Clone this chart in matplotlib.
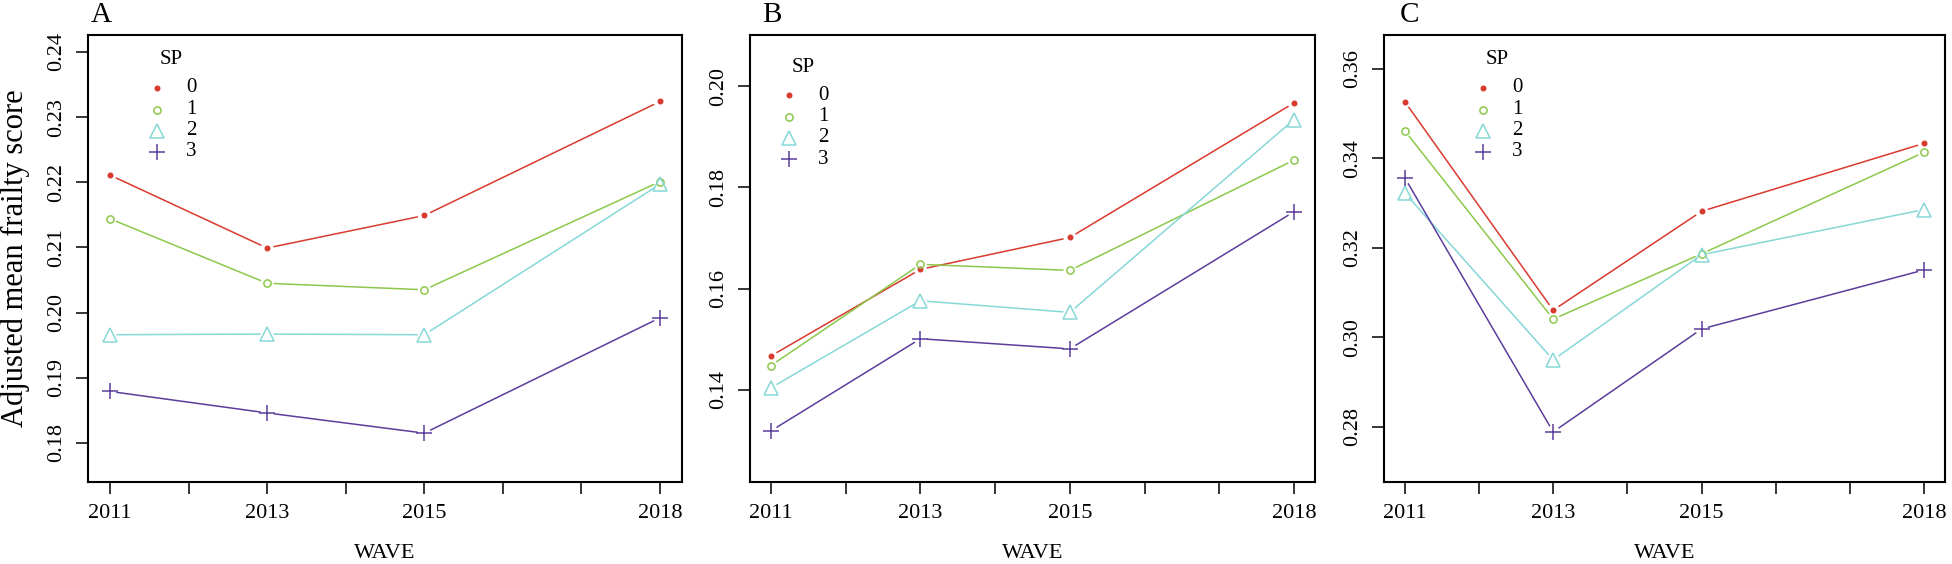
import matplotlib
matplotlib.use("Agg")
import matplotlib.pyplot as plt

plt.rcParams['font.family'] = ['Liberation Serif', 'DejaVu Serif']

waves = [2011, 2013, 2015, 2018]
sp_levels = ['0', '1', '2', '3']

# adjusted mean frailty score, one list per SP level, per panel
a_sp0 = [0.2211, 0.2099, 0.2149, 0.2324]
a_sp1 = [0.2144, 0.2045, 0.2035, 0.2201]
a_sp2 = [0.1966, 0.1967, 0.1966, 0.2197]
a_sp3 = [0.1879, 0.1846, 0.1815, 0.1992]

b_sp0 = [0.1467, 0.1638, 0.1701, 0.1967]
b_sp1 = [0.1448, 0.1648, 0.1636, 0.1854]
b_sp2 = [0.1404, 0.1576, 0.1553, 0.1934]
b_sp3 = [0.1319, 0.1501, 0.1481, 0.1752]

c_sp0 = [0.3527, 0.3061, 0.3282, 0.3434]
c_sp1 = [0.3462, 0.3041, 0.3187, 0.3414]
c_sp2 = [0.3323, 0.2950, 0.3185, 0.3286]
c_sp3 = [0.3357, 0.2789, 0.3019, 0.3151]

a_yticks = [0.18, 0.19, 0.20, 0.21, 0.22, 0.23, 0.24]
b_yticks = [0.14, 0.16, 0.18, 0.20]
c_yticks = [0.28, 0.30, 0.32, 0.34, 0.36]

colors = ['#D93A2E', '#8CC84B', '#86D8D6', '#5C3D9C']
markers = ['o', 'o', '^', '+']
msizes = [3.2, 5.2, 9.5, 11]
filled = [True, False, False, True]

# pixel layout of the three boxes (left, width); all share top 35 / bottom 482
panels = [
    dict(label='A', data=[a_sp0, a_sp1, a_sp2, a_sp3], ylim=(0.174, 0.2426),
         yticks=a_yticks, rect=[88, 594], lab_x=3, leg=(157, 60)),
    dict(label='B', data=[b_sp0, b_sp1, b_sp2, b_sp3], ylim=(0.1218, 0.2101),
         yticks=b_yticks, rect=[750, 565], lab_x=12, leg=(789, 67)),
    dict(label='C', data=[c_sp0, c_sp1, c_sp2, c_sp3], ylim=(0.2677, 0.3676),
         yticks=c_yticks, rect=[1384, 561], lab_x=16, leg=(1483, 60)),
]
row_off = [28, 49.5, 70.5, 92]

W, H = 1952, 564
TOP, BOT = 35, 482
AH = BOT - TOP
fig = plt.figure(figsize=(W / 100, H / 100), dpi=100)

for p in panels:
    left, width = p['rect']
    ax = fig.add_axes([left / W, (H - BOT) / H, width / W, AH / H])
    ax.set_xlim(2010.72, 2018.28)
    ax.set_ylim(*p['ylim'])

    for i, ys in enumerate(p['data']):
        # R type="b": segments stop short of the points
        for k in range(len(waves) - 1):
            ax.annotate('', xy=(waves[k + 1], ys[k + 1]), xytext=(waves[k], ys[k]),
                        arrowprops=dict(arrowstyle='-', color=colors[i], lw=1.1,
                                        shrinkA=5, shrinkB=5))
        ax.plot(waves, ys, linestyle='none', marker=markers[i], ms=msizes[i],
                mec=colors[i], mfc=colors[i] if filled[i] else 'none',
                mew=1.1, clip_on=False)

    ax.set_xticks(range(2011, 2019))
    ax.set_xticklabels([str(y) if y in waves else '' for y in range(2011, 2019)])
    ax.set_yticks(p['yticks'])
    ax.set_yticklabels(['%.2f' % v for v in p['yticks']], rotation=90, va='center')
    ax.tick_params(axis='both', direction='out', length=8.5, width=1.1,
                   labelsize=16)
    ax.tick_params(axis='x', pad=7)
    ax.tick_params(axis='y', pad=7)
    for s in ax.spines.values():
        s.set_linewidth(1.5)

    ax.set_xlabel('WAVE', fontsize=16)
    ax.xaxis.set_label_coords(0.5, (BOT - 554) / AH)
    ax.xaxis.label.set_va('center')

    ax.text(p['lab_x'] / width, 1.0 + 13 / AH, p['label'], transform=ax.transAxes,
            fontsize=21, ha='left', va='baseline')

    # legend drawn by hand, like R's legend(title="SP", pch=...)
    sx, sy = p['leg']
    fx = lambda px: (px - left) / width
    fy = lambda py: (BOT - py) / AH
    ax.text(fx(sx + 14.5), fy(sy), 'SP', transform=ax.transAxes,
            fontsize=15, ha='center', va='center')
    for i, lev in enumerate(sp_levels):
        ry = sy + row_off[i]
        ax.plot([fx(sx)], [fy(ry)], transform=ax.transAxes, linestyle='none',
                marker=markers[i], ms=msizes[i], mec=colors[i],
                mfc=colors[i] if filled[i] else 'none', mew=1.1, clip_on=False)
        ax.text(fx(sx + 29), fy(ry), lev, transform=ax.transAxes,
                fontsize=15, ha='left', va='center')

    if p['label'] == 'A':
        ax.set_ylabel('Adjusted mean frailty score', fontsize=22)
        ax.yaxis.set_label_coords((15 - left) / width, 0.5)
        ax.yaxis.label.set_va('center')

fig.savefig('out.png', dpi=100)
